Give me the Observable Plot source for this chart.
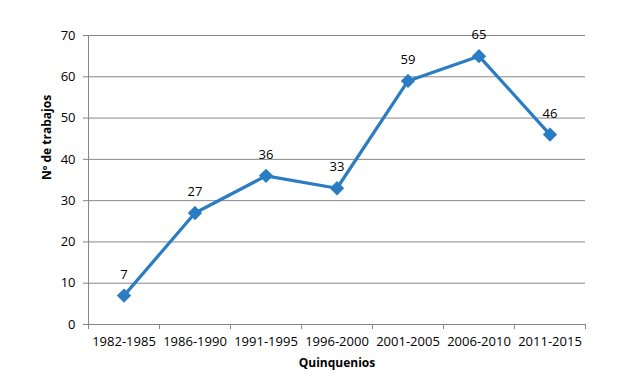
<!DOCTYPE html>
<html><head><meta charset="utf-8">
<script src="https://cdn.jsdelivr.net/npm/d3@7"></script>
<script src="https://cdn.jsdelivr.net/npm/@observablehq/plot@0.6"></script>
<style>
body{margin:0;background:#fff;}
svg{font-family:"Open Sans",sans-serif;}
</style></head>
<body><div id="chart"></div>
<script>
const categories = ["1982-1985","1986-1990","1991-1995","1996-2000","2001-2005","2006-2010","2011-2015"];
const values = [7,27,36,33,59,65,46];
const yTicks = [0,10,20,30,40,50,60,70];
const xTitle = "Quinquenios";
const yTitle = "Nº de trabajos";

const data = categories.map((c,i)=>({i: i+0.5, cat: c, v: values[i]}));
const grid = "#868686";
const blue = "#2a7cc3";

const chart = Plot.plot({
  width: 644, height: 388,
  marginLeft: 88, marginRight: 59, marginTop: 35, marginBottom: 64,
  style: {fontFamily: "'Open Sans', sans-serif", fontSize: "13px", color: "#000", background: "#fff"},
  x: {type: "linear", domain: [0, categories.length]},
  y: {domain: [0, 70]},
  marks: [
    Plot.gridY(yTicks, {stroke: grid, strokeOpacity: 1, strokeWidth: 1}),
    Plot.ruleX([0], {y1: 0, y2: 70, stroke: grid}),
    Plot.axisY(yTicks, {tickSize: 5, tickPadding: 8, stroke: grid, fill: "#000", label: null, fontSize: 13}),
    Plot.axisX(d3.range(0, categories.length + 1), {tickSize: 5, tickFormat: () => "", stroke: grid, label: null}),
    Plot.axisX(data.map(d => d.i), {tickSize: 0, tickPadding: 12, tickFormat: (d) => categories[Math.floor(d)], fill: "#000", label: null, fontSize: 13}),
    Plot.line(data, {x: "i", y: "v", stroke: blue, strokeWidth: 3.2}),
    Plot.dot(data, {x: "i", y: "v", symbol: "diamond2", r: 5.5, fill: blue, stroke: blue}),
    Plot.text(data, {x: "i", y: "v", text: d => String(d.v), dy: -21, fill: "#000", fontSize: 13}),
    Plot.text([xTitle], {frameAnchor: "bottom", dy: 42, fontWeight: "bold", fontSize: 12, fill: "#000"}),
    Plot.text([yTitle], {frameAnchor: "left", dx: -41, rotate: -90, fontWeight: "bold", fontSize: 12, fill: "#000"})
  ]
});
document.getElementById("chart").appendChild(chart);
</script></body></html>
